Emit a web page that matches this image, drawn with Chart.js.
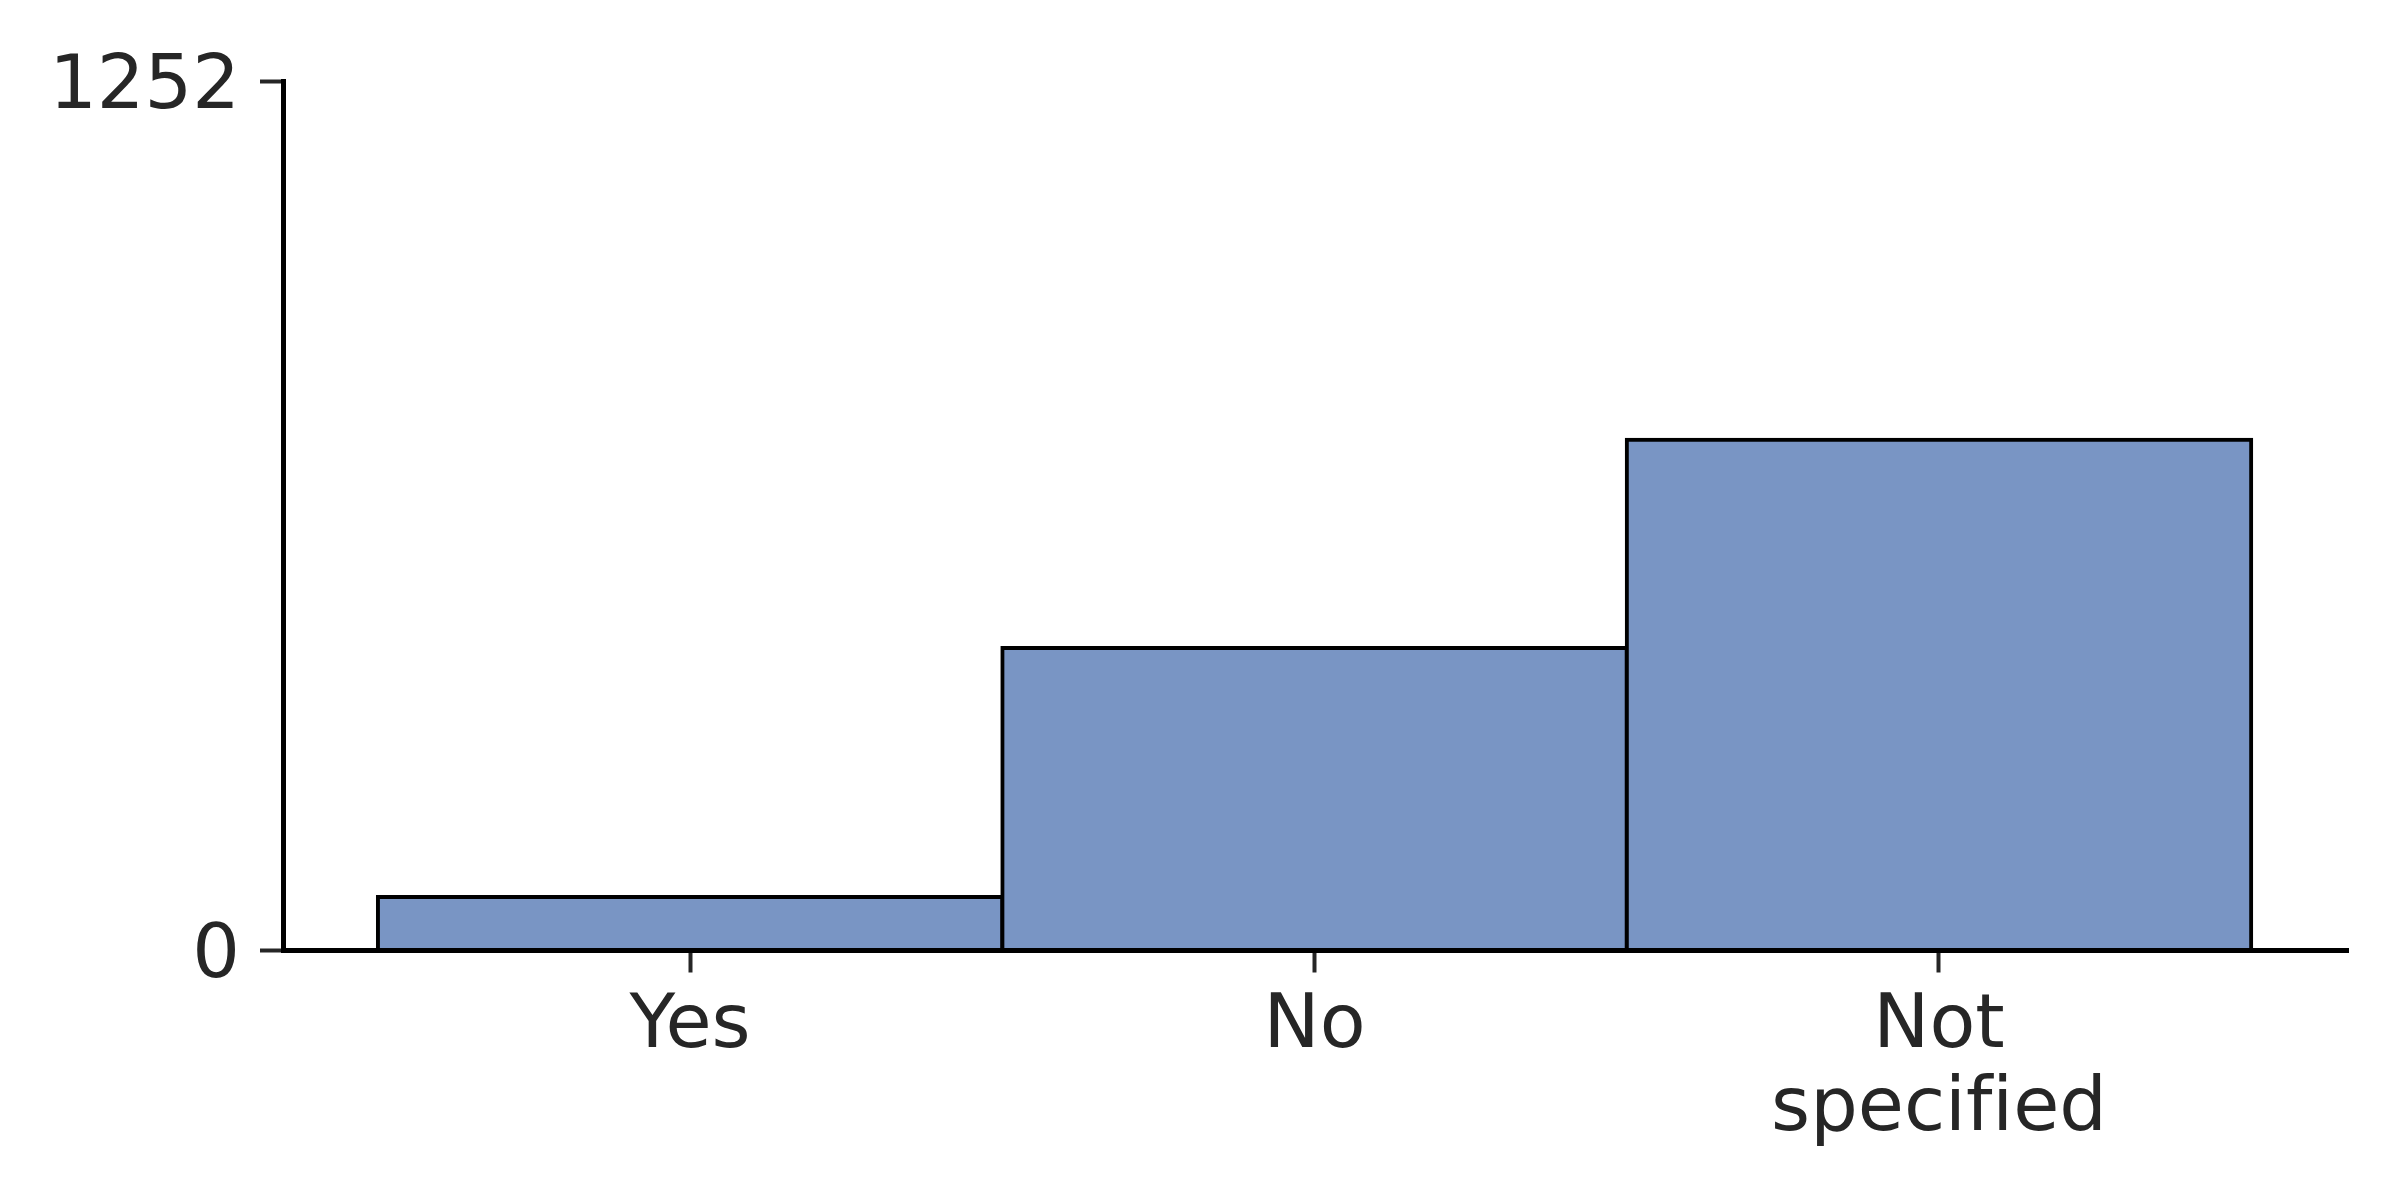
<!DOCTYPE html>
<html>
<head>
<meta charset="utf-8">
<script src="https://cdn.jsdelivr.net/npm/chart.js@4/dist/chart.umd.min.js"></script>
<style>
  html, body { margin: 0; padding: 0; background: #ffffff; }
  #wrap { width: 2400px; height: 1200px; position: relative; }
</style>
</head>
<body>
<div id="wrap"><canvas id="c" width="2400" height="1200"></canvas></div>
<script>
const categories = ["Yes", "No", ["Not", "specif\u200Cied"]];
const counts = [77, 436, 736];
const yTicks = [0, 1252];

const points = counts.map((v, i) => ({ x: i, y: v }));

new Chart(document.getElementById('c'), {
  type: 'bar',
  data: {
    datasets: [{
      data: points,
      backgroundColor: 'rgb(121,149,196)',
      borderColor: '#000000',
      borderWidth: 4,
      borderSkipped: false,
      inflateAmount: 2,
      barPercentage: 1,
      categoryPercentage: 1
    }]
  },
  options: {
    responsive: false,
    animation: false,
    devicePixelRatio: 1,
    layout: { padding: { left: 0, right: 52, top: 81.5, bottom: 0 } },
    plugins: { legend: { display: false }, tooltip: { enabled: false } },
    scales: {
      x: {
        type: 'linear',
        min: -0.652,
        max: 2.655,
        offset: false,
        afterBuildTicks: (s) => { s.ticks = categories.map((c, i) => ({ value: i })); },
        afterFit: (s) => { s.height = 249.5; },
        ticks: {
          callback: (v) => categories[v],
          color: '#262626',
          font: { family: 'DejaVu Sans', size: 75, lineHeight: 1.1 },
          padding: 14,
          maxRotation: 0,
          autoSkip: false
        },
        grid: { display: true, offset: false, drawOnChartArea: false, drawTicks: true, tickLength: 22, tickWidth: 4, tickColor: '#262626' },
        border: { display: true, color: '#000000', width: 5 }
      },
      y: {
        type: 'linear',
        min: 0,
        max: 1252,
        afterBuildTicks: (s) => { s.ticks = yTicks.map(v => ({ value: v })); },
        afterFit: (s) => { s.width = 283; },
        ticks: {
          callback: (v) => String(v),
          color: '#262626',
          font: { family: 'DejaVu Sans', size: 75 },
          padding: 20,
          labelOffset: 7,
          autoSkip: false
        },
        grid: { display: true, drawOnChartArea: false, drawTicks: true, tickLength: 23, tickWidth: 4, tickColor: '#262626' },
        border: { display: true, color: '#000000', width: 5 }
      }
    }
  }
});
</script>
</body>
</html>
